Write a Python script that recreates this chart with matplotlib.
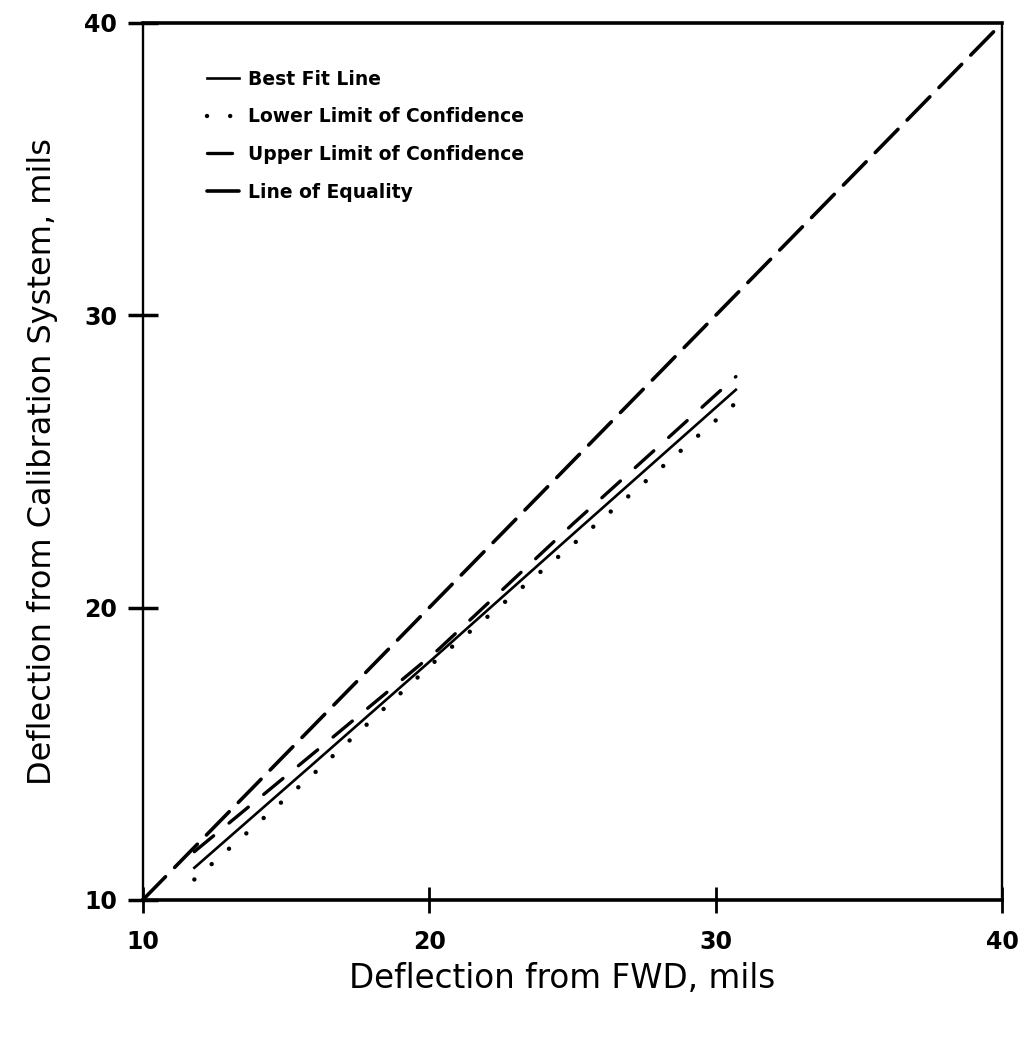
import matplotlib
matplotlib.use("Agg")
import matplotlib.pyplot as plt

# --- data (mils) ---
fit_x = [11.8, 16.0, 20.3, 25.0, 30.7]
best_fit = [11.1, 14.7, 18.4, 22.5, 27.45]
upper_conf = [11.65, 15.05, 18.55, 22.85, 27.9]
lower_conf = [10.7, 14.35, 18.25, 22.15, 27.0]
equality_x = [10, 40]
equality_y = [10, 40]
ticks = [10, 20, 30, 40]

fig = plt.figure(figsize=(10.27, 10.38), dpi=100)
ax = fig.add_axes([0.139, 0.133, 0.837, 0.845])

ax.plot(fit_x, best_fit, color='black', lw=1.9, label='Best Fit Line')
ax.plot(fit_x, lower_conf, color='black', lw=3.2, linestyle=(0, (0.01, 5.2)),
        dash_capstyle='round', label='Lower Limit of Confidence')
ax.plot(fit_x, upper_conf, color='black', lw=2.4, linestyle=(0, (7.5, 6.0)),
        dash_capstyle='round', label='Upper Limit of Confidence')
ax.plot(equality_x, equality_y, color='black', lw=2.6, linestyle=(0, (9.0, 3.6)),
        dash_capstyle='round', label='Line of Equality')

ax.set_xlim(10, 40)
ax.set_ylim(10, 40)
ax.set_xticks(ticks)
ax.set_yticks(ticks)

for side in ['top', 'bottom']:
    ax.spines[side].set_linewidth(2.6)
for side in ['left', 'right']:
    ax.spines[side].set_linewidth(1.7)

ax.tick_params(axis='x', direction='inout', length=19, width=2.0, pad=12,
               labelsize=17)
ax.tick_params(axis='y', direction='inout', length=21, width=2.5, pad=8,
               labelsize=17)
for lab in ax.get_xticklabels() + ax.get_yticklabels():
    lab.set_fontweight('bold')

ax.set_xlabel('Deflection from FWD, mils', fontsize=23.5)
ax.xaxis.set_label_coords(0.488, -0.071)
ax.set_ylabel('Deflection from Calibration System, mils', fontsize=23, labelpad=19)

leg = ax.legend(loc='upper left', bbox_to_anchor=(0.055, 0.966), frameon=False,
                handlelength=1.7, handletextpad=0.5, labelspacing=1.0,
                prop={'weight': 'bold', 'size': 13.5})

fig.savefig('out.png', dpi=100)
